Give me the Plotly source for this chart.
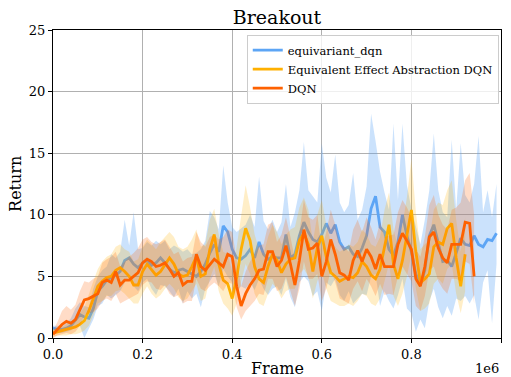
import plotly.graph_objects as go

STEP = 10000  # frames between logged points

# equivariant_dqn (blue)
eq_mean = [0.8, 0.7, 0.7, 0.8, 1.0, 1.5, 1.9, 1.7, 1.6, 2.4,
           3.8, 4.2, 4.7, 4.9, 5.1, 5.4, 6.3, 6.5, 6.0, 5.7,
           6.1, 6.3, 5.9, 6.1, 6.5, 6.1, 5.6, 5.3, 5.5, 5.6,
           5.4, 5.2, 5.0, 5.4, 6.0, 6.9, 7.6, 7.0, 9.1, 8.6,
           7.2, 6.5, 6.4, 6.7, 7.2, 6.5, 7.8, 6.8, 6.4, 6.6,
           6.5, 6.5, 8.4, 6.5, 6.8, 8.3, 9.4, 8.6, 8.0, 7.8,
           8.4, 9.3, 8.5, 9.2, 7.8, 7.2, 7.4, 6.8, 6.6, 7.3,
           8.3, 10.5, 11.5, 9.0, 8.6, 7.2, 6.7, 7.8, 10.0, 8.3,
           7.0, 5.2, 4.3, 5.5, 8.3, 9.2, 7.8, 6.2, 6.3, 5.8,
           6.9, 8.1, 7.6, 7.5, 8.3, 7.6, 7.4, 8.0, 7.9, 8.5]
eq_low = [0.5, 0.4, 0.4, 0.5, 0.6, 0.9, 1.0, 0.0, 0.8, 1.5,
          2.6, 2.8, 3.5, 3.2, 3.5, 3.8, 4.5, 5.0, 4.2, 3.8,
          4.5, 4.8, 4.0, 3.5, 4.3, 4.2, 3.8, 3.3, 4.0, 2.8,
          3.8, 3.2, 3.6, 2.5, 4.0, 4.6, 5.2, 4.2, 5.6, 5.0,
          4.5, 3.8, 4.2, 4.0, 4.5, 3.9, 4.8, 4.0, 3.5, 4.0,
          4.2, 3.5, 4.8, 3.3, 2.5, 4.5, 5.0, 4.6, 3.4, 3.8,
          2.2, 4.5, 4.2, 4.8, 3.5, 3.0, 3.8, 2.8, 3.2, 3.6,
          3.5, 5.0, 5.2, 2.6, 3.8, 3.0, 2.4, 3.5, 4.8, 2.4,
          2.0, 0.5, 1.5, 0.8, 3.0, 4.0, 2.5, 1.6, 2.6, 1.8,
          3.2, 3.0, 3.4, 2.8, 3.5, 1.5, 4.5, 5.5, 1.2, 6.0]
eq_high = [1.0, 1.0, 1.0, 1.2, 1.6, 2.4, 2.9, 2.6, 2.5, 4.0,
           5.0, 5.5, 5.8, 6.8, 6.5, 7.0, 9.6, 7.5, 10.2, 7.2,
           7.3, 7.8, 7.5, 7.9, 7.6, 7.9, 7.2, 7.5, 7.3, 7.0,
           7.2, 6.8, 6.9, 7.2, 7.9, 10.3, 9.8, 8.8, 14.0, 11.0,
           9.0, 8.6, 8.9, 9.2, 10.0, 9.0, 13.1, 9.5, 8.8, 9.6,
           8.6, 9.4, 12.5, 9.0, 10.2, 12.0, 15.9, 12.0, 11.5, 11.0,
           15.8, 13.0, 11.8, 14.9, 11.0, 10.2, 10.8, 13.4, 9.6, 10.4,
           12.3, 18.2, 16.0, 13.5, 11.8, 10.4, 17.4, 11.2, 17.4, 12.4,
           10.5, 9.0, 7.6, 9.6, 12.0, 16.6, 12.0, 10.2, 9.8, 16.1,
           10.4, 15.8, 11.6, 11.0, 12.5, 16.4, 10.2, 12.0, 9.8, 12.5]

# Equivalent Effect Abstraction DQN (yellow)
eea_mean = [0.4, 0.5, 0.55, 0.65, 0.75, 0.9, 1.1, 1.4, 2.2, 3.2,
            4.2, 4.6, 4.9, 5.0, 5.5, 5.7, 5.4, 5.0, 4.3, 4.3,
            5.4, 6.0, 5.5, 5.1, 5.4, 6.0, 6.5, 6.0, 5.2, 5.0,
            5.1, 5.8, 6.6, 5.0, 5.2, 7.2, 8.4, 6.0, 4.7, 4.4,
            3.2, 4.9, 7.2, 8.9, 7.9, 5.8, 4.8, 4.5, 5.8, 6.8,
            6.3, 5.3, 6.0, 6.4, 6.5, 7.9, 8.5, 7.6, 5.4, 7.3,
            8.3, 6.6, 5.3, 5.0, 4.6, 4.8, 5.0, 4.9, 5.3, 6.2,
            5.8, 5.1, 4.8, 5.6, 7.5, 9.2, 6.0, 4.8, 6.3, 8.2,
            10.4, 7.0, 4.5, 4.8, 5.2, 7.4, 7.8, 7.6, 8.9, 9.3,
            6.5, 4.2, 6.8]
eea_low = [0.1, 0.2, 0.2, 0.2, 0.3, 0.3, 0.4, 0.6, 1.0, 1.8,
           2.8, 3.0, 3.4, 3.4, 3.8, 3.9, 3.6, 3.2, 2.8, 2.8,
           3.6, 4.2, 3.6, 3.2, 3.5, 4.0, 4.4, 4.0, 3.3, 3.0,
           3.2, 3.8, 4.4, 3.0, 3.2, 4.8, 5.8, 3.8, 2.8, 2.4,
           1.8, 2.8, 4.6, 6.0, 5.2, 3.6, 2.8, 2.6, 3.6, 4.4,
           4.0, 3.2, 3.8, 4.0, 4.0, 5.2, 5.6, 5.0, 3.2, 4.6,
           5.4, 4.0, 3.0, 2.8, 2.6, 2.6, 2.8, 2.6, 3.0, 3.6,
           3.4, 2.8, 2.6, 3.2, 4.6, 6.0, 3.4, 2.6, 3.6, 5.0,
           6.8, 4.0, 2.2, 2.4, 2.8, 4.4, 4.8, 4.4, 5.6, 6.0,
           3.6, 2.0, 3.8]
eea_high = [0.7, 0.8, 0.9, 1.1, 1.3, 1.6, 2.0, 2.5, 3.6, 4.6,
            5.6, 6.2, 6.6, 6.8, 7.4, 7.6, 7.2, 7.0, 6.2, 6.4,
            7.4, 8.0, 7.6, 7.2, 7.8, 8.2, 8.6, 8.2, 7.4, 7.2,
            7.4, 8.0, 8.8, 7.4, 7.6, 9.6, 10.5, 8.4, 7.0, 6.8,
            5.4, 7.4, 9.8, 12.4, 10.6, 8.4, 7.2, 6.8, 8.2, 9.2,
            8.6, 7.6, 8.4, 8.8, 9.0, 10.6, 11.4, 10.4, 7.8, 10.0,
            11.2, 9.2, 7.8, 7.4, 7.0, 7.2, 7.6, 7.4, 7.8, 8.8,
            8.4, 7.6, 7.4, 8.2, 10.4, 11.8, 8.8, 7.4, 9.2, 11.4,
            14.6, 10.2, 7.2, 7.6, 8.0, 10.4, 11.0, 10.8, 12.0, 12.8,
            9.6, 7.0, 9.8]

# DQN (orange)
dqn_mean = [0.3, 0.7, 1.1, 1.35, 1.2, 1.5, 2.3, 3.1, 3.2, 3.4,
            3.6, 4.5, 4.7, 4.5, 5.4, 4.3, 4.7, 4.7, 5.0, 5.3,
            6.1, 6.4, 6.2, 5.8, 5.9, 6.1, 5.6, 5.0, 5.3, 4.3,
            4.6, 4.6, 6.8, 5.8, 5.5, 6.0, 6.4, 6.1, 5.8, 6.8,
            6.6, 4.2, 2.6, 3.6, 4.3, 4.8, 5.5, 5.6, 7.0, 7.0,
            5.8, 6.3, 7.5, 6.0, 4.3, 6.3, 8.8, 7.2, 7.3, 7.7,
            5.0, 6.2, 8.0, 6.8, 5.3, 5.1, 4.7, 6.3, 7.1, 6.2,
            7.2, 6.6, 5.6, 6.8, 5.8, 5.8, 5.8, 7.6, 8.5, 7.9,
            7.2, 4.8, 4.2, 5.8, 8.2, 8.6, 7.3, 6.5, 6.1, 7.6,
            7.6, 7.6, 9.4, 9.3, 5.0]
dqn_low = [0.0, 0.2, 0.3, 0.4, 0.3, 0.5, 1.0, 1.8, 2.0, 2.1,
           2.4, 3.0, 3.2, 3.0, 3.6, 2.8, 3.0, 3.2, 3.4, 3.6,
           4.3, 4.6, 4.5, 4.0, 3.9, 4.3, 3.6, 3.3, 3.5, 2.8,
           3.0, 3.0, 4.8, 4.0, 3.8, 4.2, 4.5, 4.2, 3.8, 4.5,
           4.4, 2.5, 1.5, 2.2, 2.6, 3.0, 3.6, 3.5, 4.8, 4.8,
           3.8, 4.0, 5.0, 3.8, 2.6, 4.0, 6.2, 4.8, 4.8, 5.2,
           3.0, 4.0, 5.5, 4.5, 3.2, 3.0, 2.8, 4.0, 4.6, 3.8,
           4.8, 4.2, 3.4, 4.4, 3.5, 3.6, 3.5, 5.0, 5.8, 5.2,
           4.6, 2.6, 2.2, 3.4, 5.5, 5.8, 4.6, 4.0, 3.6, 4.8,
           4.8, 4.6, 6.2, 6.0, 2.8]
dqn_high = [0.6, 1.3, 2.2, 2.6, 2.3, 2.7, 3.8, 4.6, 4.5, 4.8,
            5.0, 6.1, 6.4, 6.6, 7.0, 5.8, 6.2, 6.6, 6.9, 7.3,
            8.0, 8.2, 7.8, 7.6, 7.8, 8.0, 7.4, 6.8, 7.0, 6.2,
            6.5, 6.6, 8.6, 7.8, 7.4, 8.2, 8.4, 8.0, 8.2, 8.8,
            8.6, 6.3, 4.2, 5.4, 6.2, 6.8, 7.5, 7.6, 9.2, 9.4,
            7.8, 8.4, 9.8, 8.2, 6.4, 8.6, 11.2, 9.8, 9.6, 10.0,
            7.2, 8.6, 10.4, 9.2, 7.6, 7.4, 7.0, 8.8, 9.6, 8.6,
            9.8, 9.0, 8.0, 9.4, 8.2, 8.3, 8.4, 10.2, 11.2, 10.6,
            9.8, 7.2, 6.6, 8.2, 10.8, 11.6, 10.0, 9.2, 8.8, 10.4,
            10.6, 11.0, 12.8, 13.4, 10.0]

SERIES = [
    ("equivariant_dqn", eq_mean, eq_low, eq_high, "#5DA5F5", "rgba(93,165,245,0.32)"),
    ("Equivalent Effect Abstraction DQN", eea_mean, eea_low, eea_high, "#FFB000", "rgba(255,176,0,0.22)"),
    ("DQN", dqn_mean, dqn_low, dqn_high, "#FE6100", "rgba(254,97,0,0.22)"),
]

FONT = "DejaVu Serif"

fig = go.Figure()
for name, mean, low, high, col, fillcol in SERIES:
    xs = [i * STEP for i in range(len(mean))]
    fig.add_trace(go.Scatter(x=xs, y=low, mode="lines", line=dict(width=0, color=fillcol),
                             showlegend=False, hoverinfo="skip"))
    fig.add_trace(go.Scatter(x=xs, y=high, mode="lines", line=dict(width=0, color=fillcol),
                             fill="tonexty", fillcolor=fillcol, showlegend=False, hoverinfo="skip"))
    fig.add_trace(go.Scatter(x=xs, y=mean, mode="lines", name=name,
                             line=dict(width=2.8, color=col)))

xtick_vals = [0, 200000, 400000, 600000, 800000, 1000000]
xtick_text = ["0.0", "0.2", "0.4", "0.6", "0.8", "1.0"]
ytick_vals = [0, 5, 10, 15, 20, 25]

axis_common = dict(showline=True, linecolor="black", linewidth=1, mirror=True,
                   ticks="outside", ticklen=4, tickcolor="black", tickwidth=1,
                   showgrid=True, gridcolor="#b0b0b0", gridwidth=0.8,
                   zeroline=False, automargin=False,
                   tickfont=dict(family=FONT, size=13, color="black"))

fig.update_layout(
    width=511, height=377,
    margin=dict(l=53, r=10, t=30, b=39),
    paper_bgcolor="white", plot_bgcolor="white",
    font=dict(family=FONT, color="black"),
    title=dict(text="Breakout", xref="paper", x=0.5, xanchor="center", y=0.955, yanchor="middle",
               font=dict(family=FONT, size=19, color="black")),
    xaxis=dict(range=[0, 1000000], tickvals=xtick_vals, ticktext=xtick_text, **axis_common),
    yaxis=dict(range=[0, 25], tickvals=ytick_vals, **axis_common),
    legend=dict(x=0.995, y=0.985, xanchor="right", yanchor="top", traceorder="normal",
                bgcolor="rgba(255,255,255,0.8)", bordercolor="#cccccc", borderwidth=1,
                font=dict(family=FONT, size=11.5, color="black"), tracegroupgap=0),
    showlegend=True,
    annotations=[
        dict(text="Frame", xref="paper", yref="paper", x=0.5, y=-0.1, xanchor="center",
             yanchor="middle", showarrow=False, font=dict(family=FONT, size=16)),
        dict(text="Return", xref="paper", yref="paper", x=-0.085, y=0.5, xanchor="center",
             yanchor="middle", textangle=-90, showarrow=False, font=dict(family=FONT, size=16)),
        dict(text="1e6", xref="paper", yref="paper", x=1.0, y=-0.098, xanchor="right",
             yanchor="middle", showarrow=False, font=dict(family=FONT, size=13)),
    ],
)

fig.write_html("out.html", config={"displayModeBar": False})

# remove the browser's default page margin so the figure sits at the window origin
with open("out.html", "r", encoding="utf-8") as fh:
    html = fh.read()
html = html.replace("<head>", "<head><style>html,body{margin:0;padding:0;overflow:hidden;}</style>", 1)
with open("out.html", "w", encoding="utf-8") as fh:
    fh.write(html)
